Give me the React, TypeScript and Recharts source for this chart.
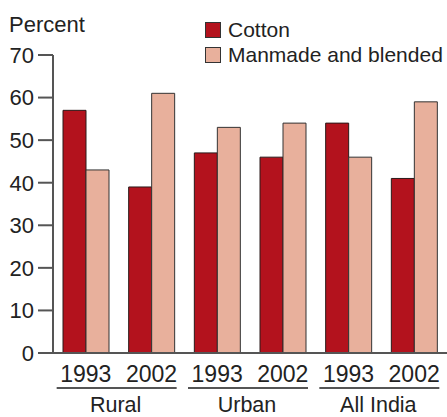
import { Bar, BarChart, Legend, XAxis, YAxis } from "recharts";

const years = ["1993", "2002", "1993", "2002", "1993", "2002"];
const regions = ["Rural", "Urban", "All India"];
const cotton = [57, 39, 47, 46, 54, 41];
const manmade = [43, 61, 53, 54, 46, 59];
const yTicks = [0, 10, 20, 30, 40, 50, 60, 70];

const COTTON = "#b3121d";
const MANMADE = "#e8b09c";
const AXIS = "#555";
const TEXT = "#222";
const FONT = "'Liberation Sans', Arial, sans-serif";

const W = 447;
const H = 417;
const PLOT_LEFT = 53;
const BAND = (W - PLOT_LEFT) / years.length;

const data = years.map((year, i) => ({
  key: `${regions[Math.floor(i / 2)]} ${year}`,
  year,
  cotton: cotton[i],
  manmade: manmade[i],
}));

function YearTick(props: any) {
  const { x, y, index } = props;
  const mid = x + BAND / 2;
  return (
    <g>
      <text x={x} y={y + 29} textAnchor="middle" fontSize={23} fill={TEXT} fontFamily={FONT}>
        {years[index]}
      </text>
      {index % 2 === 0 && (
        <g>
          <line x1={mid - 62} x2={mid + 58} y1={y + 35} y2={y + 35} stroke={AXIS} strokeWidth={2} />
          <text x={mid - 3} y={y + 59} textAnchor="middle" fontSize={21.5} fill={TEXT} fontFamily={FONT}>
            {regions[index / 2]}
          </text>
        </g>
      )}
    </g>
  );
}

function LegendBox(props: any) {
  const items = props.payload ?? [];
  return (
    <svg width={247} height={70} style={{ display: "block" }}>
      {items.map((it: any, i: number) => (
        <g key={it.value}>
          <rect x={5.5} y={22.5 + i * 25} width={15} height={15} fill={it.color} stroke="#333" strokeWidth={1} />
          <text x={28} y={37 + i * 25} fontSize={21} fill={TEXT} fontFamily={FONT}>
            {it.value}
          </text>
        </g>
      ))}
    </svg>
  );
}

export default function App() {
  return (
    <div style={{ position: "absolute", left: 0, top: 0, width: W, height: H, fontFamily: FONT }}>
      <div
        style={{
          position: "absolute",
          left: 9,
          top: 13.5,
          fontSize: 22,
          lineHeight: "22px",
          color: TEXT,
          zIndex: 1,
        }}
      >
        Percent
      </div>
      <BarChart
        width={W}
        height={H}
        data={data}
        margin={{ top: 55, right: 0, left: 0, bottom: 0 }}
        barCategoryGap={10}
        barGap={0}
      >
        <YAxis
          width={PLOT_LEFT}
          domain={[0, 70]}
          ticks={yTicks}
          interval={0}
          tickSize={15}
          tickMargin={4}
          tickLine={{ stroke: AXIS, strokeWidth: 2 }}
          axisLine={{ stroke: AXIS, strokeWidth: 2 }}
          tick={{ fontSize: 22, fill: TEXT, fontFamily: FONT }}
        />
        <XAxis
          dataKey="key"
          height={64}
          interval={0}
          tickLine={false}
          tickSize={0}
          tickMargin={0}
          axisLine={{ stroke: AXIS, strokeWidth: 2 }}
          tick={<YearTick />}
        />
        <Legend
          layout="vertical"
          align="center"
          verticalAlign="middle"
          wrapperStyle={{ top: 0, left: 200, width: 247, height: 70 }}
          content={<LegendBox />}
        />
        <Bar dataKey="cotton" name="Cotton" fill={COTTON} stroke="#2a1a1a" strokeWidth={1} isAnimationActive={false} />
        <Bar
          dataKey="manmade"
          name="Manmade and blended"
          fill={MANMADE}
          stroke="#333"
          strokeWidth={1}
          isAnimationActive={false}
        />
      </BarChart>
    </div>
  );
}
